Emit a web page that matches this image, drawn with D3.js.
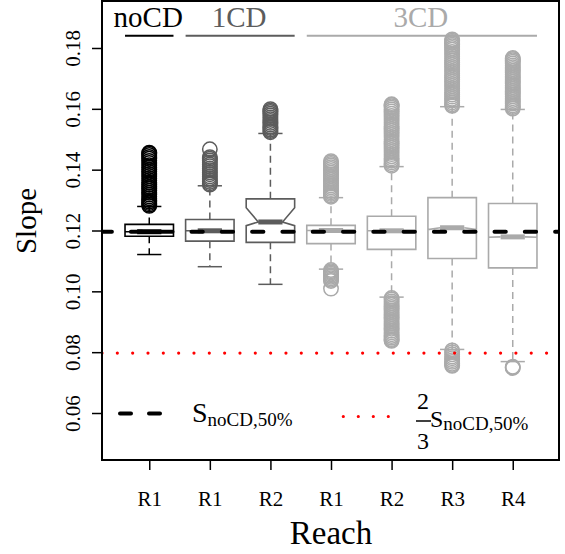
<!DOCTYPE html>
<html>
<head>
<meta charset="utf-8">
<script src="https://cdn.jsdelivr.net/npm/d3@7"></script>
<style>
  html, body { margin: 0; padding: 0; background: #fff; }
  svg { display: block; font-family: 'Liberation Serif', 'Times New Roman', serif; }
  svg text { font-family: 'Liberation Serif', 'Times New Roman', serif; }
</style>
</head>
<body>
<svg id="slope-box" width="565" height="554" viewBox="0 0 565 554"></svg>
<script>
'use strict';

/* global d3 */

// scenario groups and the reach of each box
var groups = ['noCD', '1CD', '3CD'];
var groupColors = ['#000000', '#5c5c5c', '#aaaaaa'];
var reach = ['R1', 'R1', 'R2', 'R1', 'R2', 'R3', 'R4'];
var boxGroup = [0, 1, 1, 2, 2, 2, 2];

// box statistics (slope)
var lowerWhisker = [0.1121, 0.1081, 0.1023, 0.1073, 0.0981, 0.0809, 0.0769];
var q1 = [0.1181, 0.1165, 0.1161, 0.1157, 0.1138, 0.1108, 0.1077];
var median = [0.1196, 0.1199, 0.1228, 0.1200, 0.1199, 0.1209, 0.1179];
var q3 = [0.1220, 0.1236, 0.1304, 0.1217, 0.1247, 0.1308, 0.1289];
var upperWhisker = [0.1279, 0.1347, 0.1519, 0.1308, 0.1410, 0.1607, 0.1598];
var notchLo = [0.1196, 0.1199, 0.1216, 0.1200, 0.1199, 0.1203, 0.1178];
var notchHi = [0.1196, 0.1199, 0.1275, 0.1200, 0.1199, 0.1203, 0.1178];

var outliers = [
  [0.1281, 0.1285, 0.1290, 0.1295, 0.1300, 0.1306, 0.1312, 0.1318, 0.1324, 0.1331, 0.1338, 0.1344, 0.1351, 0.1358,
    0.1365, 0.1372, 0.1379, 0.1386, 0.1393, 0.1400, 0.1408, 0.1415, 0.1422, 0.1429, 0.1436, 0.1442, 0.1448, 0.1453, 0.1456],
  [0.1351, 0.1355, 0.1360, 0.1366, 0.1372, 0.1378, 0.1385, 0.1391, 0.1398, 0.1404, 0.1411, 0.1417, 0.1424, 0.1430,
    0.1436, 0.1441, 0.1467],
  [0.1523, 0.1527, 0.1532, 0.1537, 0.1542, 0.1548, 0.1554, 0.1560, 0.1566, 0.1572, 0.1578, 0.1584, 0.1590, 0.1594, 0.1599],
  [0.1311, 0.1315, 0.1320, 0.1325, 0.1330, 0.1336, 0.1342, 0.1348, 0.1354, 0.1360, 0.1366, 0.1372, 0.1378, 0.1384,
    0.1390, 0.1396, 0.1402, 0.1408, 0.1414, 0.1419, 0.1424, 0.1428,
    0.1070, 0.1066, 0.1062, 0.1058, 0.1053, 0.1048, 0.1043, 0.1038, 0.1034, 0.1009],
  [0.1413, 0.1418, 0.1424, 0.1430, 0.1437, 0.1444, 0.1451, 0.1458, 0.1465, 0.1472, 0.1479, 0.1486, 0.1493, 0.1500,
    0.1507, 0.1514, 0.1521, 0.1528, 0.1535, 0.1542, 0.1549, 0.1556, 0.1563, 0.1570, 0.1577, 0.1584, 0.1591, 0.1598,
    0.1604, 0.1609, 0.1613, 0.1615,
    0.0978, 0.0973, 0.0967, 0.0961, 0.0955, 0.0949, 0.0943, 0.0937, 0.0931, 0.0925, 0.0919, 0.0913, 0.0907, 0.0901,
    0.0895, 0.0889, 0.0883, 0.0877, 0.0871, 0.0865, 0.0859, 0.0853, 0.0848, 0.0843, 0.0840, 0.0837],
  [0.1610, 0.1615, 0.1621, 0.1627, 0.1633, 0.1640, 0.1647, 0.1654, 0.1661, 0.1668, 0.1675, 0.1682, 0.1689, 0.1696,
    0.1703, 0.1710, 0.1717, 0.1724, 0.1731, 0.1738, 0.1745, 0.1752, 0.1759, 0.1766, 0.1773, 0.1780, 0.1787, 0.1794,
    0.1800, 0.1806, 0.1811, 0.1816, 0.1820, 0.1824, 0.1828,
    0.0806, 0.0800, 0.0793, 0.0786, 0.0780, 0.0774, 0.0768, 0.0762, 0.0758, 0.0755],
  [0.1601, 0.1606, 0.1611, 0.1617, 0.1623, 0.1629, 0.1635, 0.1641, 0.1647, 0.1653, 0.1659, 0.1665, 0.1671, 0.1677,
    0.1683, 0.1689, 0.1695, 0.1701, 0.1707, 0.1713, 0.1719, 0.1725, 0.1731, 0.1737, 0.1743, 0.1749, 0.1755, 0.1760,
    0.1764, 0.1767,
    0.0752, 0.0750, 0.0748]
];

var yTicks = [0.06, 0.08, 0.10, 0.12, 0.14, 0.16, 0.18];
var refSlope = 0.1196;       // S_noCD,50%
var refSlopeTwoThirds = 0.0797;

(function () {
  var svg = d3.select('#slope-box');
  var plot = { left: 102, right: 559, top: 1, bottom: 460 };

  var x = d3.scaleLinear().domain([0.22, 7.78]).range([plot.left, plot.right + 1]);
  var y = d3.scaleLinear().domain([0.04455, 0.19545]).range([plot.bottom, plot.top]);
  var hw = x(1.4) - x(1); // half box width (boxwex 0.8)

  svg.append('defs').append('clipPath').attr('id', 'plot-clip')
    .append('rect').attr('x', plot.left).attr('y', plot.top)
    .attr('width', plot.right - plot.left).attr('height', plot.bottom - plot.top);

  var boxes = svg.append('g').selectAll('g').data(reach).enter().append('g')
    .attr('stroke', function (d, i) { return groupColors[boxGroup[i]]; });

  // whiskers
  boxes.append('line').attr('x1', function (d, i) { return x(i + 1); }).attr('x2', function (d, i) { return x(i + 1); })
    .attr('y1', function (d, i) { return y(q3[i]); }).attr('y2', function (d, i) { return y(upperWhisker[i]); })
    .attr('stroke-width', 1.5).attr('stroke-dasharray', '7,5');
  boxes.append('line').attr('x1', function (d, i) { return x(i + 1); }).attr('x2', function (d, i) { return x(i + 1); })
    .attr('y1', function (d, i) { return y(q1[i]); }).attr('y2', function (d, i) { return y(lowerWhisker[i]); })
    .attr('stroke-width', 1.5).attr('stroke-dasharray', '7,5');

  // staples
  [upperWhisker, lowerWhisker].forEach(function (arr) {
    boxes.append('line')
      .attr('x1', function (d, i) { return x(i + 1) - hw / 2; }).attr('x2', function (d, i) { return x(i + 1) + hw / 2; })
      .attr('y1', function (d, i) { return y(arr[i]); }).attr('y2', function (d, i) { return y(arr[i]); })
      .attr('stroke-width', 1.5);
  });

  // notched box
  boxes.append('path').attr('fill', '#fff').attr('stroke-width', 1.6).attr('stroke-linejoin', 'miter')
    .attr('d', function (d, i) {
      var c = x(i + 1);
      return 'M' + (c - hw) + ',' + y(q1[i]) +
        'L' + (c - hw) + ',' + y(notchLo[i]) +
        'L' + (c - hw / 2) + ',' + y(median[i]) +
        'L' + (c - hw) + ',' + y(notchHi[i]) +
        'L' + (c - hw) + ',' + y(q3[i]) +
        'L' + (c + hw) + ',' + y(q3[i]) +
        'L' + (c + hw) + ',' + y(notchHi[i]) +
        'L' + (c + hw / 2) + ',' + y(median[i]) +
        'L' + (c + hw) + ',' + y(notchLo[i]) +
        'L' + (c + hw) + ',' + y(q1[i]) + 'Z';
    });

  // medians
  boxes.append('line')
    .attr('x1', function (d, i) { return x(i + 1) - hw / 2; }).attr('x2', function (d, i) { return x(i + 1) + hw / 2; })
    .attr('y1', function (d, i) { return y(median[i]); }).attr('y2', function (d, i) { return y(median[i]); })
    .attr('stroke-width', 5);

  // outliers
  boxes.each(function (d, i) {
    d3.select(this).selectAll('circle').data(outliers[i]).enter().append('circle')
      .attr('cx', x(i + 1)).attr('cy', function (v) { return y(v); })
      .attr('r', 7.2).attr('fill', 'none').attr('stroke-width', 1.5);
  });

  // reference lines
  var refs = svg.append('g').attr('clip-path', 'url(#plot-clip)');
  refs.append('line').attr('x1', 100.6).attr('x2', plot.right + 10)
    .attr('y1', y(refSlope)).attr('y2', y(refSlope))
    .attr('stroke', '#000').attr('stroke-width', 4).attr('stroke-linecap', 'round')
    .attr('stroke-dasharray', '11.3,19');
  refs.append('line').attr('x1', plot.left).attr('x2', plot.right)
    .attr('y1', y(refSlopeTwoThirds)).attr('y2', y(refSlopeTwoThirds))
    .attr('stroke', '#ff0000').attr('stroke-width', 3.2).attr('stroke-linecap', 'round')
    .attr('stroke-dasharray', '0,15.33');

  // group headers
  var spans = [[1, 1], [2, 3], [4, 7]];
  var heads = svg.append('g').selectAll('g').data(groups).enter().append('g');
  heads.append('line')
    .attr('x1', function (d, i) { return x(spans[i][0]) - hw; })
    .attr('x2', function (d, i) { return x(spans[i][1]) + hw; })
    .attr('y1', 35.7).attr('y2', 35.7)
    .attr('stroke', function (d, i) { return groupColors[i]; }).attr('stroke-width', 2);
  heads.append('text')
    .attr('x', function (d, i) { return (x(spans[i][0]) + x(spans[i][1])) / 2 - 1; })
    .attr('y', 27).attr('text-anchor', 'middle').attr('font-size', 29)
    .attr('fill', function (d, i) { return groupColors[i]; })
    .text(function (d) { return d; });

  // axes
  var xAxis = d3.axisBottom(x).tickValues(d3.range(1, 8)).tickSize(10)
    .tickFormat(function (d) { return reach[d - 1]; });
  var yAxis = d3.axisLeft(y).tickValues(yTicks).tickSize(10).tickFormat(d3.format('.2f'));

  var xG = svg.append('g').attr('transform', 'translate(0,' + plot.bottom + ')').call(xAxis)
    .attr('font-family', null).attr('font-size', 21);
  xG.select('.domain').remove();
  xG.selectAll('line').attr('stroke', '#000').attr('stroke-width', 1.5);
  xG.selectAll('text').attr('y', 46).attr('dy', 0).attr('fill', '#000');

  var yG = svg.append('g').attr('transform', 'translate(' + plot.left + ',0)').call(yAxis)
    .attr('font-family', null).attr('font-size', 21);
  yG.select('.domain').remove();
  yG.selectAll('line').attr('stroke', '#000').attr('stroke-width', 1.5);
  yG.selectAll('text').attr('x', 0).attr('y', -22).attr('dy', 0).attr('transform', 'rotate(-90)')
    .attr('text-anchor', 'middle').attr('fill', '#000');

  // frame
  svg.append('rect').attr('x', plot.left).attr('y', plot.top)
    .attr('width', plot.right - plot.left).attr('height', plot.bottom - plot.top)
    .attr('fill', 'none').attr('stroke', '#000').attr('stroke-width', 2);

  // axis titles
  svg.append('text').attr('transform', 'translate(36,221) rotate(-90)')
    .attr('text-anchor', 'middle').attr('font-size', 29).text('Slope');
  svg.append('text').attr('x', 331).attr('y', 544)
    .attr('text-anchor', 'middle').attr('font-size', 33).text('Reach');

  // legend
  var lg = svg.append('g');
  lg.append('line').attr('x1', 120).attr('x2', 160).attr('y1', 413.5).attr('y2', 413.5)
    .attr('stroke', '#000').attr('stroke-width', 4).attr('stroke-linecap', 'round')
    .attr('stroke-dasharray', '11,18');
  var t1 = lg.append('text').attr('x', 192).attr('y', 421.5).attr('font-size', 28);
  t1.append('tspan').text('S');
  t1.append('tspan').attr('dy', 4).attr('font-size', 19).text('noCD,50%');

  lg.append('line').attr('x1', 343.3).attr('x2', 388.4).attr('y1', 416.5).attr('y2', 416.5)
    .attr('stroke', '#ff0000').attr('stroke-width', 3.2).attr('stroke-linecap', 'round')
    .attr('stroke-dasharray', '0,15');
  lg.append('text').attr('x', 423).attr('y', 409).attr('text-anchor', 'middle').attr('font-size', 24).text('2');
  lg.append('line').attr('x1', 416).attr('x2', 431).attr('y1', 421).attr('y2', 421)
    .attr('stroke', '#000').attr('stroke-width', 1.5);
  lg.append('text').attr('x', 423).attr('y', 449).attr('text-anchor', 'middle').attr('font-size', 24).text('3');
  var t2 = lg.append('text').attr('x', 430).attr('y', 426.5).attr('font-size', 24);
  t2.append('tspan').text('S');
  t2.append('tspan').attr('dy', 3.5).attr('font-size', 19).text('noCD,50%');
})();
</script>
</body>
</html>
